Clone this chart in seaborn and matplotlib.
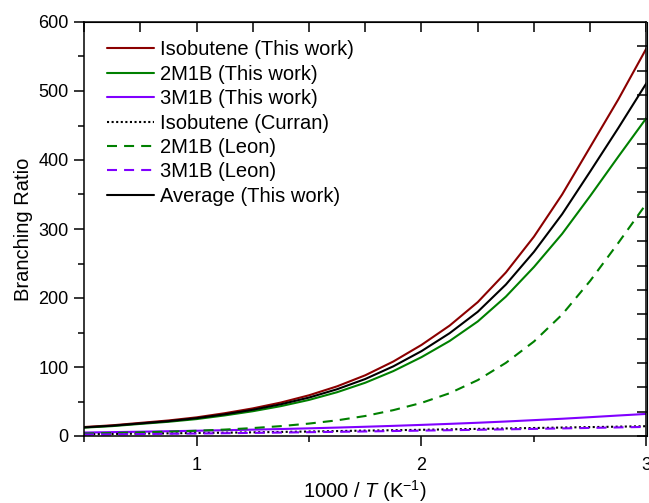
import numpy as np
import pandas as pd
import matplotlib
matplotlib.use("Agg")
import matplotlib.pyplot as plt
import seaborn as sns
from matplotlib.ticker import MultipleLocator, FixedLocator, NullFormatter

# ---- data ----
x_fine = [0.5, 0.625, 0.75, 0.875, 1.0, 1.125, 1.25, 1.375, 1.5, 1.625, 1.75,
          1.875, 2.0, 2.125, 2.25, 2.375, 2.5, 2.625, 2.75, 2.875, 3.0]
isobutene_this = [13, 15.5, 19, 22.5, 27, 33, 40, 48.5, 59, 72, 88,
                  108, 132, 160, 194, 237, 289, 350, 419, 488, 562]
m2m1b_this = [12.1, 14.3, 17.5, 20.6, 24.5, 29.8, 35.9, 43.3, 52.3, 63.5, 77.2,
              94.1, 114.3, 137.7, 166, 202, 245, 293, 348, 405, 461]
average_this = [12.5, 14.9, 18.2, 21.5, 25.8, 31.4, 38, 46, 55.7, 67.8, 82.6,
                101, 123, 149, 180, 219.5, 267, 321.5, 383.5, 446.5, 511.5]
m2m1b_leon = [3.5, 4.3, 5.2, 6.3, 7.6, 9.3, 11.5, 14.3, 18, 22.7, 29,
              37.5, 48, 62, 81, 106, 137, 176, 225, 280, 337]
m3m1b_this = [5, 5.6, 6.2, 6.9, 7.6, 8.4, 9.2, 10.1, 11.1, 12.2, 13.4,
              14.7, 16.1, 17.6, 19.2, 21, 23, 25, 27.3, 29.7, 32]
x_coarse = [0.5, 0.75, 1.0, 1.25, 1.5, 1.75, 2.0, 2.25, 2.5, 2.75, 3.0]
isobutene_curran = [2.5, 3.4, 4.3, 5.3, 6.5, 7.8, 9.0, 10.3, 11.6, 12.9, 14.2]
m3m1b_leon = [2.0, 2.8, 3.6, 4.5, 5.5, 6.6, 7.8, 9.0, 10.3, 11.7, 13.2]

labels = ["Isobutene (This work)", "2M1B (This work)", "3M1B (This work)",
          "Isobutene (Curran)", "2M1B (Leon)", "3M1B (Leon)", "Average (This work)"]

sns.set_style("white")
plt.rcParams['font.family'] = ['Liberation Sans', 'DejaVu Sans']
plt.rcParams['mathtext.fontset'] = 'custom'
plt.rcParams['mathtext.rm'] = 'Liberation Sans'
plt.rcParams['mathtext.it'] = 'Liberation Sans:italic'
for k in ['text.color', 'axes.labelcolor', 'xtick.color', 'ytick.color', 'axes.edgecolor']:
    plt.rcParams[k] = 'black'

fig = plt.figure(figsize=(6.49, 5.03), dpi=100)
ax = fig.add_axes([84 / 649, (503 - 436) / 503, (646.5 - 84) / 649, (436 - 22) / 503])

red = "#8B0000"
green = "#008000"
purple = "#8000FF"
lw = 1.5

series = [
    (x_fine, isobutene_this, red, "-"),
    (x_fine, m2m1b_this, green, "-"),
    (x_fine, m3m1b_this, purple, "-"),
    (x_coarse, isobutene_curran, "black", (0, (1, 1.2))),
    (x_fine, m2m1b_leon, green, (0, (4.8, 3.4))),
    (x_coarse, m3m1b_leon, purple, (0, (4.8, 3.4))),
    (x_fine, average_this, "black", "-"),
]
for (xs, ys, c, ls), lab in zip(series, labels):
    sns.lineplot(x=xs, y=ys, ax=ax, color=c, linestyle=ls, linewidth=lw,
                 label=lab, sort=False, estimator=None)

ax.set_xlim(0.5, 3.0)
ax.set_ylim(0, 600)
ax.xaxis.set_major_locator(FixedLocator([1, 2, 3]))
ax.xaxis.set_minor_locator(FixedLocator([0.5, 1.5, 2.5]))
ax.yaxis.set_major_locator(MultipleLocator(100))
ax.yaxis.set_minor_locator(MultipleLocator(50))
ax.tick_params(which='both', bottom=True, left=True, top=False, right=False,
               direction='out', width=1.1, colors='black')
ax.tick_params(which='major', length=7, labelsize=13)
ax.tick_params(which='minor', length=4)
ax.tick_params(axis='x', which='major', pad=8)
ax.tick_params(axis='y', which='major', pad=4)
for sp in ax.spines.values():
    sp.set_linewidth(1.1)
    sp.set_color("black")

# top and right tick marks (inward)
sec_x = ax.secondary_xaxis('top')
sec_x.set_xticks(np.arange(0.5, 3.01, 0.25))
sec_x.xaxis.set_major_formatter(NullFormatter())
sec_x.tick_params(top=True, direction='in', length=7, width=1.1, colors='black')
sec_y = ax.secondary_yaxis('right')
sec_y.set_yticks(np.linspace(0, 600, 18)[:-1])
sec_y.yaxis.set_major_formatter(NullFormatter())
sec_y.tick_params(right=True, direction='in', length=7, width=1.1, colors='black')

ax.set_xlabel("1000 / $\\it{T}$ (K$^{-1}$)", fontsize=14.5, labelpad=3)
ax.set_ylabel("Branching Ratio", fontsize=14.5, labelpad=4)

ax.legend(loc='upper left', bbox_to_anchor=(0.02, 0.985), frameon=False,
          fontsize=14.5, handlelength=2.3, handletextpad=0.3, labelspacing=0.27,
          borderaxespad=0.2)

fig.savefig("out.png", dpi=100)
